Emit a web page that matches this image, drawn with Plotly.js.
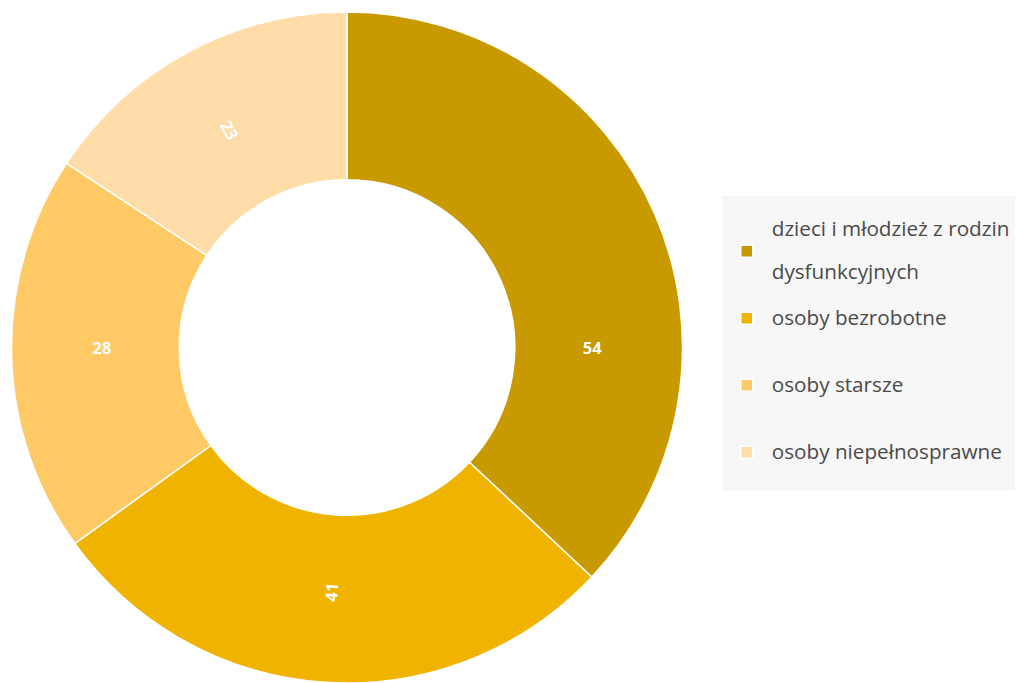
<!DOCTYPE html>
<html>
<head>
<meta charset="utf-8">
<script src="https://cdn.plot.ly/plotly-3.0.1.min.js"></script>
<style>html,body{margin:0;padding:0;background:#fff;}#chart{width:1016px;height:683px;}</style>
</head>
<body>
<div id="chart"></div>
<script>
const categories = ["dzieci i młodzież z rodzin dysfunkcyjnych", "osoby bezrobotne", "osoby starsze", "osoby niepełnosprawne"];
const legendLines = [["dzieci i młodzież z rodzin", "dysfunkcyjnych"], ["osoby bezrobotne"], ["osoby starsze"], ["osoby niepełnosprawne"]];
const values = [54, 41, 28, 23];
const colors = ["#C89A00", "#F0B400", "#FFC966", "#FFDCA8"];

const span = s => '<span style="font-size:20.7px">' + s + '</span>';
const legendLabels = legendLines.map(lines =>
  lines.length === 2
    ? span(lines[0]) + "<br>\u00a0<br>" + span(lines[1])
    : "\u00a0<br>" + span(lines[0]) + "<br>\u00a0"
);

const trace = {
  type: "pie",
  labels: legendLabels,
  values: values,
  customdata: categories,
  hole: 0.5,
  sort: false,
  direction: "clockwise",
  rotation: 0,
  textinfo: "value",
  textposition: "inside",
  insidetextorientation: "radial",
  textfont: {color: "#ffffff", size: 16.5, family: "Open Sans", weight: "bold"},
  marker: {colors: colors, line: {color: "#ffffff", width: 1.5}},
  domain: {x: [0, 0.67], y: [0, 1]},
  hovertemplate: "%{customdata}: %{value}<extra></extra>"
};

const layout = {
  width: 1016,
  height: 683,
  margin: {l: 10, r: 0, t: 12, b: 0},
  paper_bgcolor: "#ffffff",
  font: {family: "Open Sans", size: 16, color: "#4a4a4a"},
  showlegend: true,
  legend: {
    x: 0.7075, xanchor: "left",
    y: 0.7258, yanchor: "top",
    bgcolor: "#f7f7f7",
    borderwidth: 0,
    itemwidth: 40,
    font: {size: 16.4, color: "#4a4a4a"},
    title: {text: " ", font: {size: 13}},
    traceorder: "normal"
  }
};

Plotly.newPlot("chart", [trace], layout, {displayModeBar: false});
</script>
</body>
</html>
